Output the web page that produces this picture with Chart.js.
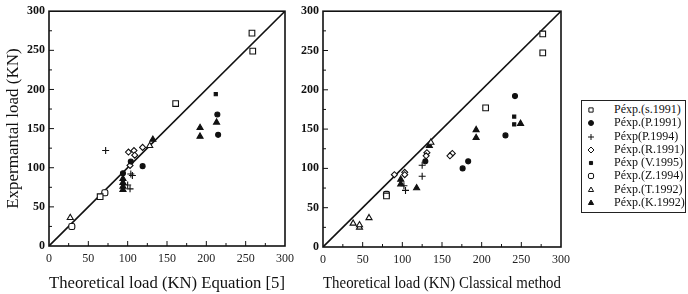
<!DOCTYPE html>
<html>
<head>
<meta charset="utf-8">
<script src="https://cdn.jsdelivr.net/npm/chart.js@4"></script>
<style>
  html, body { margin: 0; padding: 0; background: #fff; }
  #wrap { position: relative; width: 688px; height: 294px; overflow: hidden; }
  .box { position: absolute; top: 0; height: 294px; }
  #legend {
    position: absolute; left: 581px; top: 100px; width: 105px; height: 113px;
    border: 1px solid #222; box-sizing: border-box; padding-top: 2px;
    font-family: 'Liberation Serif', serif; font-size: 12px; color: #111;
  }
  #legend .row { height: 13.3px; line-height: 13.3px; white-space: nowrap; position: relative; }
  #legend canvas { position: absolute; left: 3px; top: 1px; }
  #legend span { position: absolute; left: 32px; top: 0; }
</style>
</head>
<body>
<div id="wrap">
  <div class="box" style="left:0;width:300px"><canvas id="eqChart"></canvas></div>
  <div class="box" style="left:296px;width:280px"><canvas id="clChart"></canvas></div>
  <div id="legend"></div>
</div>
<script>
// series names, as in the legend
const seriesNames = ['Péxp.(s.1991)', 'Péxp.(P.1991)', 'Péxp(P.1994)', 'Péxp.(R.1991)',
                     'Péxp (V.1995)', 'Péxp.(Z.1994)', 'Péxp.(T.1992)', 'Péxp.(K.1992)'];

const tickValues = [0, 50, 100, 150, 200, 250, 300];

// left chart: theoretical (Equation [5]) vs experimental, [x, y]
const eq_s1991 = [[258, 272], [259, 249], [161, 182], [65, 63]];
const eq_P1991 = [[94, 93], [104, 108], [214, 168], [215, 142], [119, 102]];
const eq_P1994 = [[72, 122], [100, 78], [103, 73], [104, 92], [106, 90]];
const eq_R1991 = [[101, 120], [108, 122], [109, 116], [119, 126], [103, 103]];
const eq_V1995 = [[212, 194]];
const eq_Z1994 = [[71, 68], [29, 25]];
const eq_T1992 = [[27, 36], [128, 128]];
const eq_K1992 = [[94, 86], [94, 81], [94, 76], [94, 72], [192, 151], [192, 140], [213, 158], [132, 136]];

// right chart: theoretical (classical method) vs experimental, [x, y]
const cl_s1991 = [[277, 271], [277, 247], [205, 177], [80, 65]];
const cl_P1991 = [[129, 109], [183, 109], [176, 100], [242, 192], [230, 142]];
const cl_P1994 = [[102, 78], [104, 72], [125, 104], [125, 90]];
const cl_R1991 = [[90, 92], [103, 95], [103, 92], [163, 119], [160, 116], [131, 120], [130, 116]];
const cl_V1995 = [[241, 166], [241, 156]];
const cl_Z1994 = [[80, 67]];
const cl_T1992 = [[38, 30], [46, 25], [46, 28], [58, 37], [136, 133]];
const cl_K1992 = [[98, 86], [98, 80], [118, 75], [134, 129], [193, 149], [193, 139], [249, 157]];

const eqSeries = [eq_s1991, eq_P1991, eq_P1994, eq_R1991, eq_V1995, eq_Z1994, eq_T1992, eq_K1992];
const clSeries = [cl_s1991, cl_P1991, cl_P1994, cl_R1991, cl_V1995, cl_Z1994, cl_T1992, cl_K1992];

// marker look for each series
const markers = [
  { pointStyle: 'rect',        radius: 4,   fill: '#fff' },
  { pointStyle: 'circle',      radius: 2.5, fill: '#111' },
  { pointStyle: 'cross',       radius: 3.5, fill: '#111' },
  { pointStyle: 'rectRot',     radius: 3,   fill: '#fff' },
  { pointStyle: 'rect',        radius: 2.2, fill: '#111' },
  { pointStyle: 'rectRounded', radius: 3.5, fill: '#fff' },
  { pointStyle: 'triangle',    radius: 3.5, fill: '#fff' },
  { pointStyle: 'triangle',    radius: 3.5, fill: '#111' }
];

const serif = "'Liberation Serif', 'Times New Roman', serif";

// frame box + small inward ticks
const framePlugin = {
  id: 'frame',
  afterDraw(chart) {
    const { ctx, chartArea: a, scales } = chart;
    ctx.save();
    ctx.strokeStyle = '#111';
    ctx.lineWidth = 1.6;
    ctx.strokeRect(a.left, a.top, a.right - a.left, a.bottom - a.top);
    ctx.lineWidth = 1;
    for (let v = 25; v < 300; v += 25) {
      const len = v % 50 === 0 ? 5 : 3;
      const px = scales.x.getPixelForValue(v);
      const py = scales.y.getPixelForValue(v);
      ctx.beginPath();
      ctx.moveTo(px, a.bottom); ctx.lineTo(px, a.bottom - len);
      ctx.moveTo(a.left, py); ctx.lineTo(a.left + len, py);
      ctx.stroke();
    }
    ctx.restore();
  }
};

function makeChart(id, series, opts) {
  const datasets = series.map((pts, i) => ({
    type: 'scatter',
    label: seriesNames[i],
    data: pts.map(p => ({ x: p[0], y: p[1] })),
    pointStyle: markers[i].pointStyle,
    pointRadius: markers[i].radius,
    pointBackgroundColor: markers[i].fill,
    pointBorderColor: '#111',
    pointBorderWidth: 1.1
  }));
  // 1:1 line
  datasets.push({
    type: 'line',
    label: 'line',
    data: [{ x: 0, y: 0 }, { x: 300, y: 300 }],
    borderColor: '#111',
    borderWidth: 1.6,
    pointRadius: 0
  });

  return new Chart(document.getElementById(id), {
    data: { datasets },
    plugins: [framePlugin],
    options: {
      responsive: true,
      maintainAspectRatio: false,
      animation: false,
      layout: { padding: opts.padding },
      plugins: { legend: { display: false }, tooltip: { enabled: false } },
      scales: {
        x: {
          type: 'linear', min: 0, max: 300,
          afterBuildTicks: s => { s.ticks = tickValues.map(v => ({ value: v })); },
          afterFit: s => { s.height = opts.xHeight; },
          grid: { display: false, drawTicks: false },
          border: { display: false },
          ticks: { color: '#222', font: { family: serif, size: 12 }, padding: 6, maxRotation: 0 },
          title: { display: true, text: opts.xTitle, color: '#111',
                   font: { family: serif, size: 17 }, padding: { top: 2, bottom: 0 } }
        },
        y: {
          type: 'linear', min: 0, max: 300,
          afterBuildTicks: s => { s.ticks = tickValues.map(v => ({ value: v })); },
          afterFit: s => { s.width = opts.yWidth; },
          grid: { display: false, drawTicks: false },
          border: { display: false },
          ticks: { color: '#111', font: { family: serif, size: 12, weight: 'bold' }, padding: 4 },
          title: { display: !!opts.yTitle, text: opts.yTitle || '', color: '#111',
                   font: { family: serif, size: 17 }, padding: { top: 3, bottom: 0 } }
        }
      }
    }
  });
}

makeChart('eqChart', eqSeries, {
  padding: { top: 5, right: 6, left: 0, bottom: 0 },
  xHeight: 48, yWidth: 49,
  xTitle: 'Theoretical load (KN) Equation [5]',
  yTitle: 'Expermantal load (KN)'
});

makeChart('clChart', clSeries, {
  padding: { top: 10, right: 6, left: 0, bottom: 0 },
  xHeight: 47, yWidth: 27,
  xTitle: 'Theoretical load (KN) Classical method'
});

// legend box with the same point styles
const legend = document.getElementById('legend');
seriesNames.forEach((name, i) => {
  const row = document.createElement('div');
  row.className = 'row';
  const c = document.createElement('canvas');
  c.width = 12; c.height = 12;
  const ctx = c.getContext('2d');
  ctx.fillStyle = markers[i].fill;
  ctx.strokeStyle = '#111';
  ctx.lineWidth = 1;
  const r = Math.min(markers[i].radius, 3);
  if (Chart.helpers && Chart.helpers.drawPoint) {
    Chart.helpers.drawPoint(ctx, { pointStyle: markers[i].pointStyle, radius: r, rotation: 0, borderWidth: 1 }, 6, 6);
  }
  const label = document.createElement('span');
  label.textContent = name;
  row.appendChild(c);
  row.appendChild(label);
  legend.appendChild(row);
});
</script>
</body>
</html>
